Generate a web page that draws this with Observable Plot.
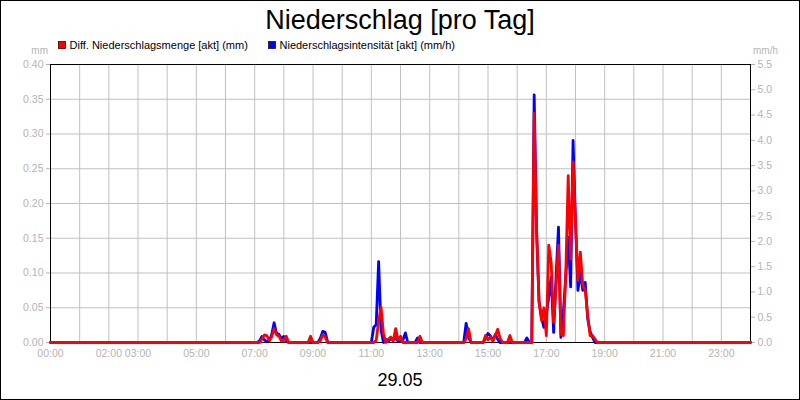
<!DOCTYPE html>
<html><head><meta charset="utf-8">
<script src="https://cdn.jsdelivr.net/npm/d3@7"></script>
<script src="https://cdn.jsdelivr.net/npm/@observablehq/plot@0.6"></script>
<style>
body{margin:0;background:#fff;}
#wrap{position:relative;width:800px;height:400px;overflow:hidden;background:#fff;font-family:"Liberation Sans",Arial,sans-serif;}
#wrap svg{position:absolute;left:0;top:0;}
#border{position:absolute;left:0;top:0;width:800px;height:400px;box-sizing:border-box;border:1px solid #000;pointer-events:none;}
</style></head><body>
<div id="wrap"></div>
<script>
// Time stamps (HH:MM) and values
const times = [
"00:00","07:05","07:10","07:15","07:20","07:25","07:30","07:35","07:40","07:45","07:50","07:55","08:00","08:05","08:10",
"08:50","08:55","09:00","09:10","09:15","09:20","09:25","09:30","09:35",
"11:00","11:05","11:10","11:15","11:20","11:25","11:30","11:35","11:40","11:45","11:50","11:55","12:00","12:05","12:10","12:15",
"12:30","12:35","12:40","12:45",
"14:10","14:15","14:20","14:25",
"14:50","14:55","15:00","15:05","15:10","15:15","15:20","15:25","15:30",
"15:40","15:45","15:50",
"16:15","16:20","16:25","16:30","16:35","16:40","16:45","16:50","16:55","17:00","17:05","17:10","17:15","17:20","17:25","17:30",
"17:35","17:40","17:45","17:50","17:55","18:00","18:05","18:10","18:15","18:20","18:25","18:30","18:35","18:40","18:45","24:00"];
// Diff. Niederschlagsmenge [akt] (mm) - left axis
const mengeMm = [
0,0,0,0.005,0.011,0.010,0.003,0.008,0.020,0.011,0.009,0.002,0.003,0.009,0,
0,0.009,0,0,0.002,0.011,0.008,0,0,
0,0,0.003,0.030,0.051,0.012,0,0.005,0.008,0.002,0.020,0.004,0.009,0,0,0,
0,0,0.009,0,
0,0.005,0.020,0,
0,0.010,0.004,0.008,0.002,0.010,0.019,0.006,0,
0,0.010,0,
0,0,0,0,0.330,0.160,0.060,0.032,0.050,0.010,0.140,0.115,0.029,0.080,0.140,0.012,
0.010,0.100,0.240,0.120,0.260,0.175,0.089,0.130,0.082,0.075,0.040,0.010,0.010,0.005,0,0];
// Niederschlagsintensität [akt] (mm/h) - right axis
const intensitaetMmh = [
0,0,0.03,0.12,0.05,0.02,0.03,0.16,0.39,0.18,0.16,0.08,0.12,0.02,0,
0,0,0,0,0.08,0.22,0.20,0.02,0,
0,0.30,0.35,1.60,0.25,0,0.06,0.02,0.08,0.04,0.10,0.02,0.03,0.05,0.19,0,
0,0.09,0,0,
0,0.38,0.10,0,
0,0.08,0.18,0.13,0.04,0.16,0.06,0,0,
0,0,0,
0,0.09,0,0,4.90,2.20,0.80,0.50,0.30,0.55,0.90,1.29,0.20,1.30,2.28,0.10,
0.60,1.30,2.08,1.10,4.00,2.40,1.03,1.39,1.03,1.19,0.47,0.22,0.10,0,0,0];

const leftTicks = [0,0.05,0.10,0.15,0.20,0.25,0.30,0.35,0.40];
const rightTicks = [0,0.5,1.0,1.5,2.0,2.5,3.0,3.5,4.0,4.5,5.0,5.5];
const xTickLabels = ["00:00","02:00","03:00","05:00","07:00","09:00","11:00","13:00","15:00","17:00","19:00","21:00","23:00"];
const title = "Niederschlag [pro Tag]";
const seriesNames = ["Diff. Niederschlagsmenge [akt] (mm)","Niederschlagsintensität [akt] (mm/h)"];
const seriesColors = ["#ff0000","#0000ff"];
const dateLabel = "29.05";

const toMin = s => { const [h,m] = s.split(":").map(Number); return h*60+m; };
const pad = n => String(n).padStart(2,"0");
const fmtMin = d => pad(Math.floor(d/60)) + ":" + pad(Math.round(d%60));
const leftMax = 0.4, rightMax = 5.5, k = leftMax/rightMax;
const rows = times.map((t,i)=>({t:toMin(t), mm:mengeMm[i], mmh:intensitaetMmh[i]}));
const gray = "#b4b4b4";

const chart = Plot.plot({
  width: 800, height: 400,
  marginTop: 64, marginBottom: 58, marginLeft: 50, marginRight: 50,
  style: {fontFamily: "Liberation Sans, Arial, sans-serif", fontSize: "11px", background: "transparent"},
  x: {domain: [0,1440]},
  y: {domain: [0,leftMax]},
  marks: [
    Plot.gridX(d3.range(0,1441,60), {stroke: "#c0c0c0", strokeOpacity: 1}),
    Plot.gridY(leftTicks, {stroke: "#c0c0c0", strokeOpacity: 1}),
    Plot.axisY(leftTicks, {anchor: "left", tickSize: 4, tickPadding: 3, tickFormat: d3.format(".2f"), color: gray, label: null, fontSize: 10.5}),
    Plot.axisY(rightTicks.map(v=>v*k), {anchor: "right", tickSize: 4, tickPadding: 3, tickFormat: d => (d/k).toFixed(1), color: gray, label: null, fontSize: 10.5}),
    Plot.axisX(xTickLabels.map(toMin), {anchor: "bottom", tickSize: 0, tickPadding: 7, tickFormat: fmtMin, color: gray, label: null, fontSize: 10.5}),
    Plot.frame({stroke: "#000"}),
    Plot.line(rows, {x: "t", y: d => d.mmh*k, stroke: seriesColors[1], strokeWidth: 2.8}),
    Plot.line(rows, {x: "t", y: "mm", stroke: seriesColors[0], strokeWidth: 2.8})
  ]
});
const wrap = document.getElementById("wrap");
wrap.appendChild(chart);

// Overlay: title, legend, units, date
const ov = d3.select(wrap).append("svg").attr("width",800).attr("height",400)
  .style("font-family","Liberation Sans, Arial, sans-serif");
ov.append("text").attr("x",400).attr("y",29).attr("text-anchor","middle").attr("font-size",27).attr("fill","#000").text(title);
const legX = [58, 268];
seriesNames.forEach((name,i)=>{
  ov.append("rect").attr("x",legX[i]+0.5).attr("y",41.5).attr("width",7).attr("height",7)
    .attr("fill",seriesColors[i]).attr("stroke","#400").attr("stroke-width",0.8);
  ov.append("text").attr("x",legX[i]+11.5).attr("y",48.5).attr("font-size",11).attr("fill","#000").text(name);
});
ov.append("text").attr("x",48).attr("y",53.5).attr("text-anchor","end").attr("font-size",10).attr("fill",gray).text("mm");
ov.append("text").attr("x",753).attr("y",53.5).attr("font-size",10).attr("fill",gray).text("mm/h");
ov.append("text").attr("x",400).attr("y",386).attr("text-anchor","middle").attr("font-size",18).attr("fill","#000").text(dateLabel);
d3.select(wrap).append("div").attr("id","border");
</script>
</body></html>
